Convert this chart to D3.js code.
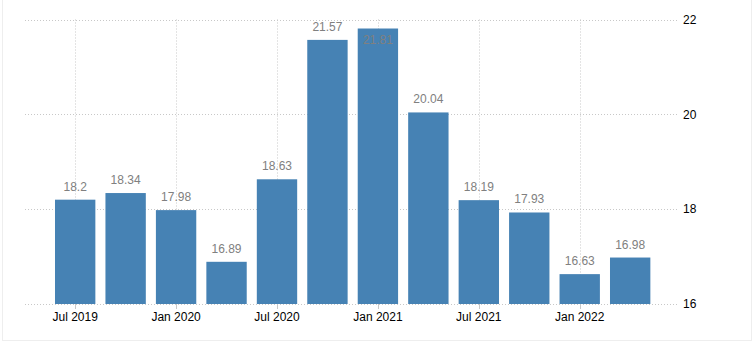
<!DOCTYPE html>
<html>
<head>
<meta charset="utf-8">
<script src="https://cdn.jsdelivr.net/npm/d3@7"></script>
<style>
  html, body { margin: 0; padding: 0; background: #fff; }
  svg { display: block; }
</style>
</head>
<body>
<svg id="chart" width="754" height="360"></svg>
<script>
const categories = ["2019-07","2019-10","2020-01","2020-04","2020-07","2020-10","2021-01","2021-04","2021-07","2021-10","2022-01","2022-04"];
const values = [18.2, 18.34, 17.98, 16.89, 18.63, 21.57, 21.81, 20.04, 18.19, 17.93, 16.63, 16.98];
const xTickCats = ["2019-07","2020-01","2020-07","2021-01","2021-07","2022-01"];
const xTickLabels = ["Jul 2019","Jan 2020","Jul 2020","Jan 2021","Jul 2021","Jan 2022"];
const yTicks = [16, 18, 20, 22];

(function () {
const svg = d3.select("#chart");
const plotTop = 19.5, plotBottom = 304, gridLeft = 25, gridRight = 679;

svg.append("rect").attr("x", 2.5).attr("y", -2).attr("width", 749).attr("height", 342.5)
  .attr("fill", "none").attr("stroke", "#eeeeee");

const x = d3.scaleBand().domain(categories).range([49.95, 655.4]).paddingInner(0.2).paddingOuter(0.1);
const y = d3.scaleLinear().domain([16, 22]).range([plotBottom, plotTop]);

svg.append("g").selectAll("line").data(yTicks).join("line")
  .attr("x1", gridLeft).attr("x2", gridRight)
  .attr("y1", d => Math.round(y(d)) + 0.5).attr("y2", d => Math.round(y(d)) + 0.5)
  .attr("stroke", "#c8c8c8").attr("stroke-dasharray", "1,2");

svg.append("g").selectAll("line").data(xTickCats).join("line")
  .attr("x1", d => Math.round(x(d) + x.bandwidth() / 2) + 0.5)
  .attr("x2", d => Math.round(x(d) + x.bandwidth() / 2) + 0.5)
  .attr("y1", plotTop).attr("y2", plotBottom)
  .attr("stroke", "#c8c8c8").attr("stroke-dasharray", "1,2");

svg.append("g").selectAll("rect").data(values).join("rect")
  .attr("x", (d, i) => x(categories[i]))
  .attr("width", x.bandwidth())
  .attr("y", d => y(d))
  .attr("height", d => plotBottom - y(d))
  .attr("fill", "#4682b4");

svg.append("g").selectAll("line").data(xTickCats).join("line")
  .attr("x1", d => Math.round(x(d) + x.bandwidth() / 2) + 0.5)
  .attr("x2", d => Math.round(x(d) + x.bandwidth() / 2) + 0.5)
  .attr("y1", plotBottom).attr("y2", plotBottom + 5)
  .attr("stroke", "#c8c8c8");

svg.append("g").selectAll("text").data(values).join("text")
  .attr("x", (d, i) => x(categories[i]) + x.bandwidth() / 2)
  .attr("y", d => (y(d) - 9 < plotTop + 5) ? y(d) + 15 : y(d) - 9)
  .attr("text-anchor", "middle")
  .attr("font-family", "Liberation Sans, Arial, sans-serif")
  .attr("font-size", 12)
  .attr("fill", "#808080")
  .text(d => String(d));

svg.append("g").selectAll("text").data(xTickCats).join("text")
  .attr("x", d => x(d) + x.bandwidth() / 2)
  .attr("y", 321)
  .attr("text-anchor", "middle")
  .attr("font-family", "Liberation Sans, Arial, sans-serif")
  .attr("font-size", 12)
  .attr("fill", "#000")
  .text((d, i) => xTickLabels[i]);

svg.append("g").selectAll("text").data(yTicks).join("text")
  .attr("x", 683)
  .attr("y", d => y(d))
  .attr("dy", "0.35em")
  .attr("font-family", "Liberation Sans, Arial, sans-serif")
  .attr("font-size", 12)
  .attr("fill", "#000")
  .text(d => d);
})();
</script>
</body>
</html>
